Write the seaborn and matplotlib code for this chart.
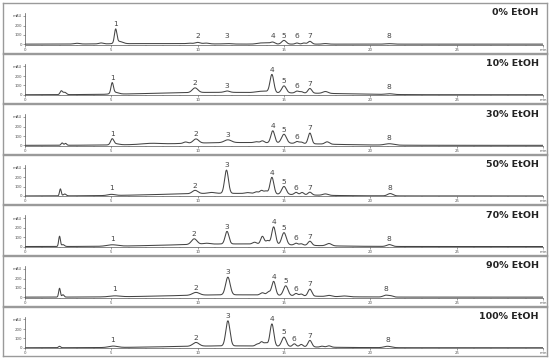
import numpy as np
import matplotlib
matplotlib.use("Agg")
import matplotlib.pyplot as plt
import seaborn as sns

# samples (top to bottom)
samples = ["0% EtOH", "10% EtOH", "30% EtOH", "50% EtOH", "70% EtOH", "90% EtOH", "100% EtOH"]

# retention time (min) of the labelled peaks 1-8, per sample
label_rt = {
    "0% EtOH":   [5.25, 10.0, 11.7, 14.35, 15.0, 15.75, 16.5, 21.1],
    "10% EtOH":  [5.05, 9.85, 11.7, 14.3, 15.0, 15.75, 16.5, 21.1],
    "30% EtOH":  [5.05, 9.9, 11.75, 14.35, 15.0, 15.75, 16.5, 21.1],
    "50% EtOH":  [5.0, 9.85, 11.67, 14.3, 15.0, 15.7, 16.5, 21.15],
    "70% EtOH":  [5.05, 9.8, 11.7, 14.4, 15.0, 15.7, 16.5, 21.1],
    "90% EtOH":  [5.2, 9.9, 11.75, 14.4, 15.1, 15.7, 16.5, 20.9],
    "100% EtOH": [5.1, 9.9, 11.75, 14.3, 15.0, 15.6, 16.5, 21.0],
}

# peaks: retention time, height (mAU), width (min)
peaks_0 = [(3.0, 8, 0.15), (4.4, 10, 0.12), (5.25, 145, 0.07), (5.45, 25, 0.2),
           (7.5, 6, 2.5), (9.5, 6, 0.15), (10.0, 15, 0.15), (10.5, 8, 0.15),
           (11.7, 5, 0.2), (13.6, 10, 0.2), (14.0, 12, 0.2), (14.35, 20, 0.12),
           (15.0, 40, 0.13), (15.75, 12, 0.1), (16.15, 12, 0.1), (16.5, 30, 0.11),
           (17.4, 6, 0.15), (21.1, 5, 0.2)]
peaks_10 = [(2.1, 40, 0.07), (2.3, 25, 0.09), (5.05, 110, 0.07), (5.2, 20, 0.2),
            (11.0, 25, 3.5), (17.0, 10, 2.5), (9.85, 50, 0.16), (11.7, 15, 0.15),
            (13.5, 10, 0.2), (13.9, 15, 0.2), (14.3, 195, 0.11), (15.0, 75, 0.13),
            (15.75, 20, 0.1), (16.0, 15, 0.1), (16.5, 50, 0.11), (17.4, 20, 0.15),
            (21.1, 8, 0.2)]
peaks_30 = [(2.15, 25, 0.06), (2.35, 20, 0.06), (5.05, 60, 0.09), (5.25, 12, 0.2),
            (7.3, 10, 0.5), (12.5, 30, 3.8), (9.3, 15, 0.12), (9.9, 45, 0.16),
            (11.75, 30, 0.2), (13.4, 10, 0.12), (13.75, 20, 0.1), (14.35, 130, 0.11),
            (15.0, 95, 0.14), (15.75, 20, 0.1), (16.0, 15, 0.1), (16.5, 115, 0.1),
            (17.5, 25, 0.13), (21.1, 15, 0.25)]
peaks_50 = [(2.05, 75, 0.05), (2.3, 20, 0.08), (5.0, 12, 0.2), (11.5, 28, 3.5),
            (9.85, 35, 0.16), (10.8, 10, 0.2), (11.67, 250, 0.11), (12.9, 10, 0.15),
            (13.4, 20, 0.12), (13.7, 35, 0.1), (13.95, 30, 0.1), (14.3, 180, 0.11),
            (15.0, 85, 0.13), (15.7, 25, 0.1), (16.05, 25, 0.1), (16.5, 30, 0.11),
            (17.4, 15, 0.15), (21.15, 25, 0.15)]
peaks_70 = [(2.0, 110, 0.05), (2.2, 20, 0.08), (5.05, 15, 0.3), (12.0, 28, 3.5),
            (9.8, 60, 0.16), (10.5, 10, 0.2), (11.7, 135, 0.11), (13.3, 20, 0.12),
            (13.75, 85, 0.1), (14.05, 40, 0.1), (14.4, 190, 0.11), (15.0, 130, 0.13),
            (15.7, 20, 0.1), (16.0, 15, 0.1), (16.5, 45, 0.11), (17.6, 25, 0.15),
            (21.1, 20, 0.15)]
peaks_90 = [(2.0, 95, 0.05), (2.2, 25, 0.06), (5.2, 10, 0.3), (12.0, 25, 3.5),
            (9.9, 30, 0.2), (11.75, 190, 0.13), (13.75, 25, 0.12), (14.1, 35, 0.1),
            (14.4, 150, 0.11), (15.1, 105, 0.13), (15.7, 25, 0.1), (16.0, 20, 0.1),
            (16.5, 75, 0.11), (17.6, 12, 0.15), (18.5, 8, 0.2), (20.9, 20, 0.15),
            (21.2, 12, 0.12)]
peaks_100 = [(2.0, 15, 0.06), (5.1, 15, 0.25), (12.0, 20, 3.5), (9.9, 40, 0.18),
             (11.75, 270, 0.12), (13.45, 20, 0.1), (13.7, 45, 0.1), (13.95, 35, 0.1),
             (14.3, 240, 0.11), (15.0, 100, 0.13), (15.6, 30, 0.1), (16.0, 25, 0.1),
             (16.5, 70, 0.11), (17.2, 10, 0.1), (17.6, 15, 0.12), (21.0, 15, 0.2)]

peak_tables = [peaks_0, peaks_10, peaks_30, peaks_50, peaks_70, peaks_90, peaks_100]

x_ticks = [0, 5, 10, 15, 20, 25, 30]
x_ticklabels = ["0", "5", "10", "15", "20", "25", "min"]
y_ticks = [0, 100, 200, 305]
y_ticklabels = ["0", "100", "200", "mAU"]


def trace(t, peaks):
    y = np.zeros_like(t)
    for rt, h, w in peaks:
        y += h * np.exp(-0.5 * ((t - rt) / w) ** 2)
    return y


sns.set_style("white")
plt.rcParams["font.family"] = ["DejaVu Sans"]

W, H = 550, 359
fig = plt.figure(figsize=(W / 100, H / 100), dpi=100)
t = np.linspace(0, 30, 3001)

for i, (name, peaks) in enumerate(zip(samples, peak_tables)):
    top = 3 + i * 50.6
    # panel frame
    frame = fig.add_axes([3 / W, 1 - (top + 49.5) / H, 544 / W, 49.5 / H])
    frame.set_xticks([])
    frame.set_yticks([])
    for s in frame.spines.values():
        s.set_color("#9a9a9a")
        s.set_linewidth(1.0)
    frame.text(0.985, 0.8, name, transform=frame.transAxes, ha="right", va="center",
               fontsize=6.8, fontweight="bold", color="#222222")

    ax = fig.add_axes([25 / W, 1 - (top + 41.5) / H, 518 / W, 31.5 / H])
    ax.patch.set_alpha(0)
    y = trace(t, peaks)
    sns.lineplot(x=t, y=y, ax=ax, color="#444444", linewidth=0.75)
    ax.set_xlim(0, 30)
    ax.set_ylim(-4, 335)
    ax.set_xticks(x_ticks)
    ax.set_xticklabels(x_ticklabels)
    ax.set_xticks(np.arange(0, 31, 1), minor=True)
    ax.set_yticks(y_ticks)
    ax.set_yticklabels(y_ticklabels)
    ax.tick_params(axis="both", which="major", labelsize=2.8, length=1.5, width=0.4,
                   pad=0.8, colors="#555555", direction="out", left=True, bottom=True)
    ax.tick_params(axis="x", which="minor", length=0.8, width=0.3, bottom=True, color="#777777")
    sns.despine(ax=ax)
    for s in ("left", "bottom"):
        ax.spines[s].set_color("#555555")
        ax.spines[s].set_linewidth(0.5)

    # peak numbers
    for k, rt in enumerate(label_rt[name]):
        m = (t > rt - 0.15) & (t < rt + 0.15)
        ytop = max(y[m].max() + 18, 50)
        ax.text(rt, ytop, str(k + 1), ha="center", va="bottom", fontsize=5.4,
                color="#444444", clip_on=False)

fig.savefig("out.png", dpi=100)
